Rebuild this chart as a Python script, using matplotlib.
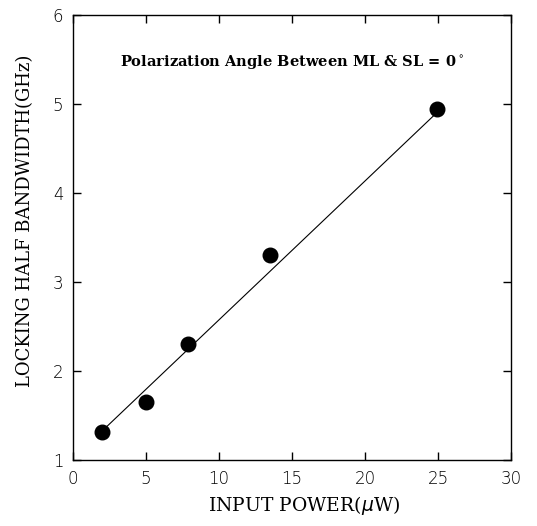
import matplotlib
matplotlib.use("Agg")
import matplotlib.pyplot as plt

# measured points
power = [2.0, 5.0, 7.9, 13.5, 24.9]
bandwidth = [1.32, 1.65, 2.31, 3.31, 4.95]

# straight fit line endpoints
fit_x = [2.0, 25.0]
fit_y = [1.33, 4.92]

xticks = [0, 5, 10, 15, 20, 25, 30]
yticks = [1, 2, 3, 4, 5, 6]

fig = plt.figure(figsize=(5.37, 5.26), dpi=100)
ax = fig.add_axes([0.136, 0.125, 0.816, 0.846])

ax.plot(fit_x, fit_y, color="black", linewidth=0.8)
ax.scatter(power, bandwidth, s=110, color="black", zorder=3)

ax.set_xlim(0, 30)
ax.set_ylim(1, 6)
ax.set_xticks(xticks)
ax.set_yticks(yticks)
ax.tick_params(direction="in", top=True, right=True, length=6, width=1,
               labelsize=12, pad=7)
for lab in ax.get_xticklabels() + ax.get_yticklabels():
    lab.set_fontfamily("DejaVu Sans")
    lab.set_fontweight("light")
for s in ax.spines.values():
    s.set_linewidth(1)

ax.set_xlabel("INPUT POWER($\\mu$W)", fontsize=13.5, family="DejaVu Serif",
              va="center")
ax.xaxis.set_label_coords(0.527, -0.101)
ax.set_ylabel("LOCKING HALF BANDWIDTH(GHz)", fontsize=13,
              family="DejaVu Serif", va="center")
ax.yaxis.set_label_coords(-0.11, 0.539)

ax.text(15.0, 5.47, "Polarization Angle Between ML & SL = 0$^\\circ$",
        ha="center", va="center", fontsize=10.5, family="DejaVu Serif",
        fontweight="bold")

fig.savefig("out.png", dpi=100)
